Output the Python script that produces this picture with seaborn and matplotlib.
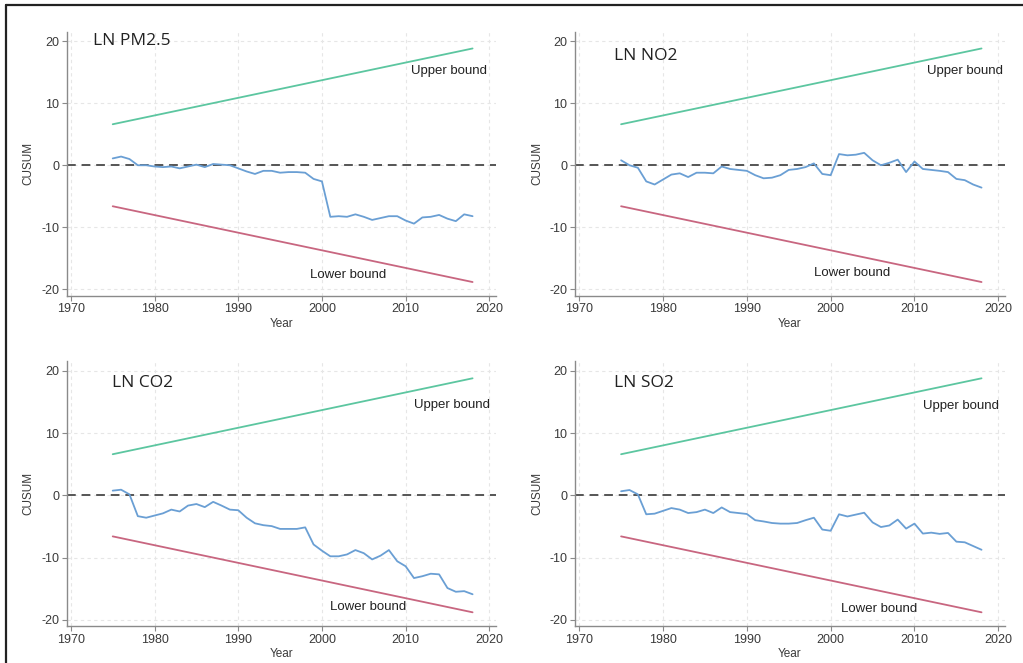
import numpy as np
import pandas as pd
import matplotlib
matplotlib.use("Agg")
import matplotlib.pyplot as plt
from matplotlib.lines import Line2D
import seaborn as sns

# ---------------- data ----------------
years = list(range(1975, 2019))

cusum_pm25 = [1.1, 1.4, 1.0, 0.0, 0.0, -0.2, -0.3, -0.2, -0.5, -0.2,
              0.1, -0.3, 0.2, 0.1, 0.0, -0.5, -1.0, -1.4, -0.9, -0.9,
              -1.2, -1.1, -1.1, -1.2, -2.2, -2.6, -8.3, -8.2, -8.3, -7.9,
              -8.3, -8.8, -8.5, -8.2, -8.2, -8.9, -9.4, -8.4, -8.3, -8.0,
              -8.6, -9.0, -7.9, -8.2]
cusum_no2 = [0.8, 0.0, -0.4, -2.6, -3.1, -2.3, -1.5, -1.3, -1.9, -1.2,
             -1.2, -1.3, -0.2, -0.6, -0.75, -0.9, -1.6, -2.1, -2.0, -1.6,
             -0.75, -0.6, -0.3, 0.3, -1.4, -1.6, 1.8, 1.6, 1.7, 2.0,
             0.8, 0.0, 0.4, 0.9, -1.1, 0.6, -0.6, -0.75, -0.9, -1.1,
             -2.2, -2.4, -3.1, -3.6]
cusum_co2 = [0.75, 0.9, 0.15, -3.35, -3.6, -3.25, -2.9, -2.3, -2.6, -1.65,
             -1.4, -1.9, -1.05, -1.65, -2.3, -2.4, -3.6, -4.5, -4.8, -4.95,
             -5.4, -5.4, -5.4, -5.15, -7.9, -8.9, -9.8, -9.8, -9.5, -8.8,
             -9.3, -10.3, -9.7, -8.8, -10.6, -11.4, -13.3, -13.0, -12.6, -12.7,
             -14.9, -15.5, -15.4, -15.9]
cusum_so2 = [0.65, 0.85, 0.15, -3.05, -2.95, -2.5, -2.05, -2.3, -2.85, -2.7,
             -2.3, -2.85, -1.95, -2.7, -2.85, -3.0, -4.0, -4.2, -4.45, -4.55,
             -4.55, -4.45, -4.0, -3.6, -5.5, -5.7, -3.05, -3.4, -3.1, -2.8,
             -4.35, -5.1, -4.85, -3.9, -5.35, -4.55, -6.15, -6.0, -6.2, -6.05,
             -7.45, -7.55, -8.15, -8.75]

bound_years = [1975, 2018]
upper_bound = [6.6, 18.8]
lower_bound = [-6.6, -18.8]

panel_titles = ["LN PM2.5", "LN NO2", "LN CO2", "LN SO2"]
panel_series = [cusum_pm25, cusum_no2, cusum_co2, cusum_so2]

x_ticks = [1970, 1980, 1990, 2000, 2010, 2020]
y_ticks = [-20, -10, 0, 10, 20]

# ---------------- style ----------------
sns.set_theme(style="white")
plt.rcParams["font.family"] = ["Liberation Sans", "DejaVu Sans"]
plt.rcParams["axes.unicode_minus"] = False

COL_CUSUM = "#6a9fd4"
COL_UP = "#5cc6a0"
COL_LOW = "#c86680"
COL_ZERO = "#555555"
COL_AX = "#8a8a8a"
COL_TXT = "#3a3a3a"

W, H = 1023, 663
fig = plt.figure(figsize=(W / 100, H / 100), dpi=100)
fig.patch.set_facecolor("white")

# axes rectangles in pixels: left, right, bottom(px from top), top(px from top)
rects = [
    (66.7, 496.0, 295.7, 31.7),
    (575.0, 1005.0, 295.7, 31.7),
    (66.7, 496.0, 626.0, 361.5),
    (575.0, 1005.0, 626.0, 361.5),
]

title_pos = [(1972.6, 20.0), (1974.1, 17.6), (1974.9, 18.0), (1974.2, 18.0)]
upper_pos = [(2015.2, 15.2), (2016.0, 15.2), (2015.5, 14.5), (2015.5, 14.4)]
lower_pos = [(2003.1, -17.6), (2002.6, -17.4), (2005.5, -18.0), (2005.8, -18.2)]

for i, (l, r, b, t) in enumerate(rects):
    ax = fig.add_axes([l / W, 1 - b / H, (r - l) / W, (b - t) / H])
    df = pd.DataFrame({"Year": years, "CUSUM": panel_series[i]})
    bdf = pd.DataFrame({"Year": bound_years, "up": upper_bound, "low": lower_bound})

    for gx in x_ticks:
        ax.axvline(gx, color="#e6e6e6", lw=0.8, ls=(0, (3, 3)), zorder=0)
    for gy in y_ticks:
        ax.axhline(gy, color="#e6e6e6", lw=0.8, ls=(0, (3, 3)), zorder=0)

    sns.lineplot(data=bdf, x="Year", y="up", ax=ax, color=COL_UP, lw=1.3)
    sns.lineplot(data=bdf, x="Year", y="low", ax=ax, color=COL_LOW, lw=1.3)
    sns.lineplot(data=df, x="Year", y="CUSUM", ax=ax, color=COL_CUSUM, lw=1.3)
    ax.axhline(0, color=COL_ZERO, lw=1.4, ls=(0, (4.5, 3)), zorder=1)

    ax.set_xlim(1969.5, 2020.8)
    ax.set_ylim(-21.0, 21.5)
    ax.set_xticks(x_ticks)
    ax.set_yticks(y_ticks)
    ax.tick_params(axis="both", which="both", length=3.5, width=0.8,
                   color=COL_AX, labelsize=9, labelcolor=COL_TXT,
                   direction="out", pad=2, bottom=True, left=True)
    for s in ["top", "right"]:
        ax.spines[s].set_visible(False)
    for s in ["left", "bottom"]:
        ax.spines[s].set_color(COL_AX)
        ax.spines[s].set_linewidth(1.0)
    ax.grid(False)
    ax.set_xlabel("Year", fontsize=8.5, color=COL_TXT, labelpad=2)
    ax.set_ylabel("CUSUM", fontsize=8.5, color=COL_TXT, labelpad=4.5)

    ax.text(*title_pos[i], panel_titles[i], fontsize=12.5, color="#222222",
            ha="left", va="center", family=["Open Sans", "DejaVu Sans"])
    ax.text(*upper_pos[i], "Upper bound", fontsize=9.5, color="#222222",
            ha="center", va="center")
    ax.text(*lower_pos[i], "Lower bound", fontsize=9.5, color="#222222",
            ha="center", va="center")

# outer frame (top and left edges visible)
fig.add_artist(Line2D([6 / W, 1.0], [1 - 5 / H, 1 - 5 / H], color="#222222", lw=1.6,
                      transform=fig.transFigure))
fig.add_artist(Line2D([6 / W, 6 / W], [0.0, 1 - 5 / H], color="#222222", lw=1.6,
                      transform=fig.transFigure))

fig.savefig("out.png", dpi=100)
